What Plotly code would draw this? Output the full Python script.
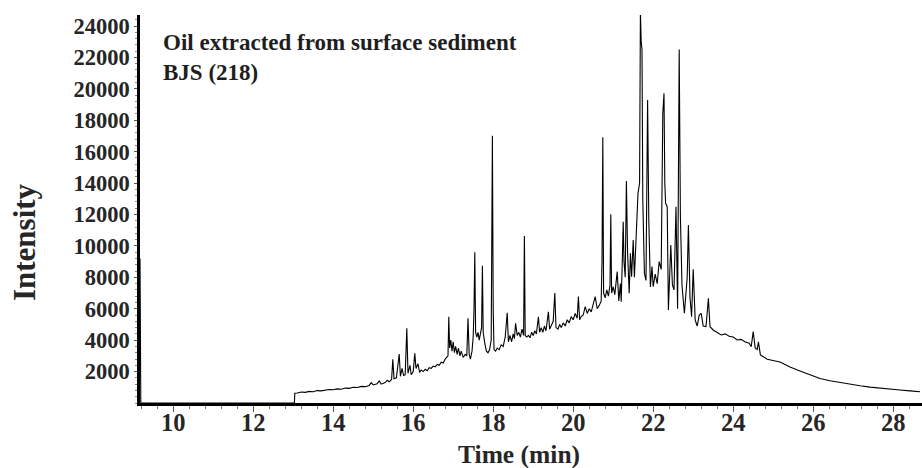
import plotly.graph_objects as go

# Retention time (min) and detector intensity of the chromatogram
time_min = [
    9.17, 9.19, 13.03, 13.04, 13.1, 13.2, 13.3, 13.4, 13.5, 13.6, 13.7, 13.8, 13.9, 14.0,
    14.1, 14.2, 14.3, 14.4, 14.5, 14.6, 14.7, 14.8, 14.9, 14.95, 15.0, 15.1, 15.15, 15.2,
    15.3, 15.35, 15.4, 15.46, 15.49, 15.52, 15.58, 15.65, 15.68, 15.72, 15.76, 15.80,
    15.84, 15.87, 15.92, 15.95, 16.0, 16.04, 16.07, 16.12, 16.16, 16.2, 16.25, 16.3,
    16.35, 16.4, 16.45, 16.5, 16.55, 16.6, 16.65, 16.7, 16.75, 16.8, 16.85, 16.87,
    16.89, 16.91, 16.94, 16.97, 17.0, 17.03, 17.06, 17.1, 17.13, 17.17, 17.2, 17.25,
    17.3, 17.34, 17.37, 17.40, 17.43, 17.47, 17.5, 17.52, 17.54, 17.56, 17.59, 17.62,
    17.65, 17.68, 17.71, 17.73, 17.75, 17.79, 17.83, 17.87, 17.91, 17.95, 17.96, 17.98,
    18.0, 18.02, 18.06, 18.1, 18.15, 18.2, 18.25, 18.3, 18.35, 18.38, 18.42, 18.46,
    18.5, 18.53, 18.56, 18.6, 18.64, 18.68, 18.72, 18.76, 18.78, 18.80, 18.84, 18.88,
    18.92, 18.96, 19.0, 19.04, 19.08, 19.13, 19.16, 19.2, 19.24, 19.28, 19.32, 19.38,
    19.41, 19.45, 19.5, 19.54, 19.57, 19.62, 19.66, 19.7, 19.75, 19.8, 19.85, 19.9,
    19.95, 20.0, 20.05, 20.1, 20.13, 20.16, 20.2, 20.25, 20.3, 20.35, 20.4, 20.45,
    20.5, 20.55, 20.6, 20.65, 20.7, 20.72, 20.74, 20.76, 20.8, 20.84, 20.88, 20.92,
    20.94, 20.96, 21.0, 21.04, 21.1, 21.14, 21.18, 21.2, 21.23, 21.25, 21.27, 21.30,
    21.33, 21.36, 21.40, 21.43, 21.46, 21.50, 21.53, 21.58, 21.62, 21.66, 21.68, 21.70,
    21.72, 21.74, 21.78, 21.82, 21.86, 21.89, 21.93, 21.97, 22.0, 22.05, 22.1, 22.15,
    22.2, 22.24, 22.27, 22.29, 22.31, 22.35, 22.38, 22.44, 22.48, 22.52, 22.57, 22.61,
    22.65, 22.68, 22.72, 22.78, 22.85, 22.88, 22.92, 22.96, 23.0, 23.05, 23.1, 23.15,
    23.2, 23.25, 23.32, 23.38, 23.42, 23.5, 23.6, 23.7, 23.8, 23.9, 24.0, 24.1, 24.2,
    24.3, 24.4, 24.45, 24.5, 24.55, 24.6, 24.63, 24.68, 24.85, 25.17, 25.42, 25.67,
    25.92, 26.17, 26.42, 26.67, 26.92, 27.17, 27.42, 27.67, 27.92, 28.17, 28.42, 28.67,
]

intensity = [
    9200, 0, 0, 620, 640, 700, 680, 740, 720, 790, 770, 830, 860, 840,
    900, 880, 950, 930, 1000, 990, 1060, 1040, 1120, 1300, 1150, 1230, 1400, 1200,
    1300, 1450, 1350, 1500, 2780, 1550, 1600, 3120, 1700, 2200, 1750, 1800,
    4750, 1900, 2400, 1800, 2000, 3160, 2200, 2500, 1950, 2100, 2000, 2150,
    2050, 2250, 2200, 2350, 2300, 2450, 2400, 2600, 2550, 2800, 2900, 3000,
    5490, 3500, 4000, 3300, 3900, 3200, 3600, 3100, 3500, 3000, 3300, 2900,
    3100, 3000, 5390, 3100, 2800, 3300, 4200, 6000, 9590, 4500, 4200, 4500,
    4000, 4400, 4800, 8740, 4500, 3800, 3300, 3200, 3400, 4000, 10000, 17010,
    6000, 3400, 3300, 3500, 3400, 3700, 3600, 4200, 5750, 3900, 4300, 3900,
    4400, 4100, 5070, 4300, 4500, 4200, 4700, 4300, 10630, 4300, 4200, 4300,
    4150, 4500, 4300, 4600, 4400, 5490, 4500, 4800, 4500, 4900, 4600, 5810,
    4700, 4900, 5200, 7000, 4800, 4700, 5000, 4800, 5100, 4900, 5300, 5100,
    5500, 5300, 5700, 5400, 6770, 5300, 5500, 5600, 6130, 5700, 6000, 5800,
    6300, 6770, 6000, 6200, 6500, 9000, 16910, 7000, 6700, 7200, 6800, 7500,
    12010, 7000, 7400, 6900, 8360, 6500, 7600, 6450, 9310, 11540, 9000, 8000,
    14130, 9530, 6980, 9530, 8040, 10380, 8000, 11010, 13350, 14000, 24900, 23000,
    22500, 12920, 8260, 7800, 19290, 11650, 7380, 8680, 7400, 8200, 7600, 9000,
    8500, 18440, 19710, 14000, 12710, 12500, 5920, 10060, 7530, 7200, 12490, 6000,
    22510, 11860, 7500, 5710, 8000, 11330, 6720, 5490, 8510, 5280, 4900, 5600,
    5710, 4900, 4860, 6660, 4860, 4650, 4500, 4330, 4400, 4250, 4200, 4010, 4050,
    3880, 3800, 3580, 4540, 3500, 3400, 3900, 3060, 2780, 2610, 2290, 2040,
    1780, 1560, 1420, 1300, 1190, 1100, 1010, 935, 880, 830, 770, 720,
]

x_ticks = [10, 12, 14, 16, 18, 20, 22, 24, 26, 28]
y_ticks = [2000, 4000, 6000, 8000, 10000, 12000, 14000, 16000, 18000, 20000, 22000, 24000]

title_lines = ["Oil extracted from surface sediment", "BJS (218)"]

SERIF = "Liberation Serif"
TEXT = "#262626"

fig = go.Figure()
fig.add_trace(go.Scatter(
    x=time_min, y=intensity, mode="lines",
    line=dict(color="#000000", width=1.1),
    hoverinfo="skip", showlegend=False,
))

fig.update_layout(
    width=922, height=468,
    margin=dict(l=140, r=0, t=15, b=65),
    paper_bgcolor="white", plot_bgcolor="white",
    font=dict(family=SERIF, color=TEXT),
    xaxis=dict(
        range=[9.17, 28.72], tickvals=x_ticks, ticktext=[str(v) for v in x_ticks],
        showgrid=False, zeroline=False, showline=True, linecolor="#000", linewidth=2.5,
        ticks="outside", ticklen=6, tickwidth=1, tickcolor="#555",
        tickfont=dict(family=SERIF, size=24.5, color=TEXT, weight="bold"),
        ticklabelstandoff=-10,
        minor=dict(dtick=0.4, tick0=10, ticks="outside", ticklen=3, tickwidth=1, tickcolor="#777"),
    ),
    yaxis=dict(
        range=[0, 24700], tickvals=y_ticks, ticktext=[str(v) for v in y_ticks],
        showgrid=False, zeroline=False, showline=True, linecolor="#000", linewidth=2.5,
        ticks="outside", ticklen=3, tickwidth=1, tickcolor="#555",
        tickfont=dict(family=SERIF, size=22.5, color=TEXT, weight="bold"),
        minor=dict(dtick=400, tick0=0, ticks="outside", ticklen=2, tickwidth=1, tickcolor="#888"),
    ),
)

# Axis titles
fig.add_annotation(
    xref="paper", yref="paper", x=-0.147, y=0.415, text="Intensity",
    textangle=-90, showarrow=False, xanchor="center", yanchor="middle",
    font=dict(family=SERIF, size=31, color=TEXT, weight="bold"),
)
fig.add_annotation(
    xref="paper", yref="paper", x=0.4847, y=-0.133, text="Time (min)",
    showarrow=False, xanchor="center", yanchor="middle",
    font=dict(family=SERIF, size=25.5, color=TEXT, weight="bold"),
)

# Sample label in the upper-left corner
for i, line in enumerate(title_lines):
    fig.add_annotation(
        xref="paper", yref="paper", x=0.027, y=0.930 - 0.079 * i, text=line,
        showarrow=False, xanchor="left", yanchor="middle",
        font=dict(family=SERIF, size=23, color="#1e1e1e", weight="bold"),
    )

fig.write_html("out.html")
